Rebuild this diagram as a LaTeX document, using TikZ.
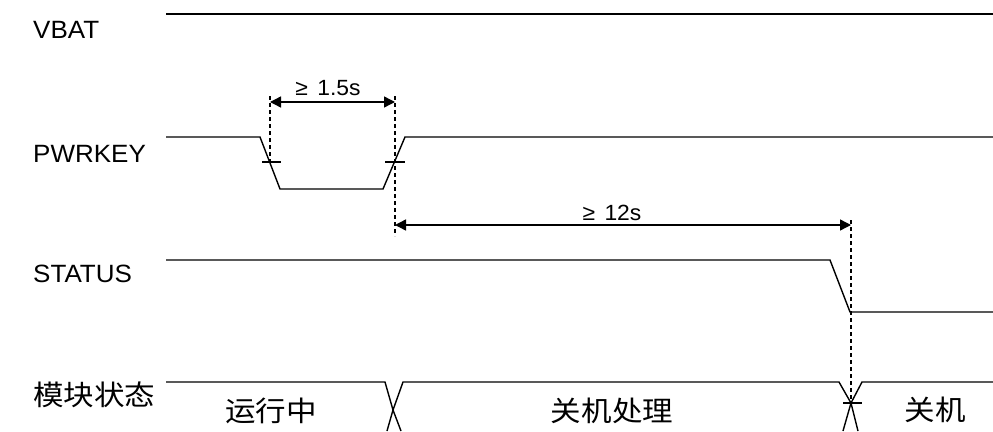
\documentclass[tikz,border=0pt]{standalone}
\usepackage{fontspec}
\setmainfont[FakeStretch=1.04]{Liberation Sans}
\newfontfamily\cjk[FakeStretch=1.09]{Noto Sans CJK SC}
\usetikzlibrary{arrows.meta}
\begin{document}
\begin{tikzpicture}[x=1pt,y=-1pt,
  sig/.style={line width=1.4pt,line join=miter},
  guide/.style={line width=1.2pt,dash pattern=on 4pt off 3pt},
  dim/.style={line width=1.4pt,{Triangle[length=11pt,width=11pt]}-{Triangle[length=11pt,width=11pt]}},
  lbl/.style={anchor=base west,inner sep=0pt,font=\fontsize{25}{29}\selectfont},
  clbl/.style={anchor=base west,inner sep=0pt,font=\cjk\fontsize{28}{32}\selectfont},
  state/.style={anchor=base,inner sep=0pt,font=\cjk\fontsize{28}{32}\selectfont},
  dimtxt/.style={anchor=base,inner sep=0pt,font=\fontsize{22}{26}\selectfont}]
\useasboundingbox (0,0) rectangle (993,431);
\clip (0,0) rectangle (993,431);

% signal names
\node[lbl] (vbat) at (33,38) {VBAT};
\node[lbl] (pwr) at (33,162) {PWRKEY};
\node[lbl] (stat) at (33,282) {STATUS};
\node[clbl] (mod) at (33,405) {模块状态};

% VBAT
\coordinate (v0) at (166,14);
\coordinate (v1) at (993,14);
\draw[sig] (v0) -- (v1);

% PWRKEY
\coordinate (p0) at (166,137);
\coordinate (p1) at (260,137);
\coordinate (p2) at (280,189);
\coordinate (p3) at (383,189);
\coordinate (p4) at (405,137);
\coordinate (p5) at (993,137);
\draw[sig] (p0) -- (p1) -- (p2) -- (p3) -- (p4) -- (p5);
% crossing ticks
\coordinate (t1a) at (262,162); \coordinate (t1b) at (281,162);
\coordinate (t2a) at (385,162); \coordinate (t2b) at (405,162);
\draw[sig] (t1a) -- (t1b);
\draw[sig] (t2a) -- (t2b);

% STATUS
\coordinate (s0) at (166,260);
\coordinate (s1) at (830,260);
\coordinate (s2) at (850,312);
\coordinate (s3) at (993,312);
\draw[sig] (s0) -- (s1) -- (s2) -- (s3);

% module state bus
\coordinate (b0) at (166,382);
\coordinate (b1) at (385,382);
\coordinate (bx1) at (393,410);
\coordinate (b1e) at (401,431);
\coordinate (b2) at (403,382);
\coordinate (b2e) at (387,431);
\coordinate (b3) at (839,382);
\coordinate (bx2) at (851,403);
\coordinate (b3e) at (858,431);
\coordinate (b4) at (862,382);
\coordinate (b4e) at (843,431);
\coordinate (b5) at (993,382);
\draw[sig] (b0) -- (b1) -- (bx1) -- (b1e);
\draw[sig] (b2e) -- (bx1) -- (b2) -- (b3) -- (bx2) -- (b3e);
\draw[sig] (b4e) -- (bx2) -- (b4) -- (b5);
\coordinate (t3a) at (843,403); \coordinate (t3b) at (862,403);
\draw[sig] (t3a) -- (t3b);

% guides
\coordinate (g1t) at (270,96);
\coordinate (g1b) at (270,162);
\coordinate (g2t) at (395,96);
\coordinate (g2b) at (395,236);
\coordinate (g3t) at (851,220);
\coordinate (g3b) at (851,403);
\draw[guide] (g1t) -- (g1b);
\draw[guide] (g2t) -- (g2b);
\draw[guide] (g3t) -- (g3b);

% dimensions
\coordinate (d1a) at (270,102);
\coordinate (d1b) at (395,102);
\draw[dim] (d1a) -- (d1b);
\node[dimtxt] (d1t) at (328,95) {≥\hspace{3pt} 1.5s};
\coordinate (d2a) at (395,225);
\coordinate (d2b) at (851,225);
\draw[dim] (d2a) -- (d2b);
\node[dimtxt] (d2t) at (612,220) {≥\hspace{3pt} 12s};

% states
\node[state] (st1) at (271,421) {运行中};
\node[state] (st2) at (612,421) {关机处理};
\node[state] (st3) at (935,420) {关机};
\end{tikzpicture}
\end{document}
